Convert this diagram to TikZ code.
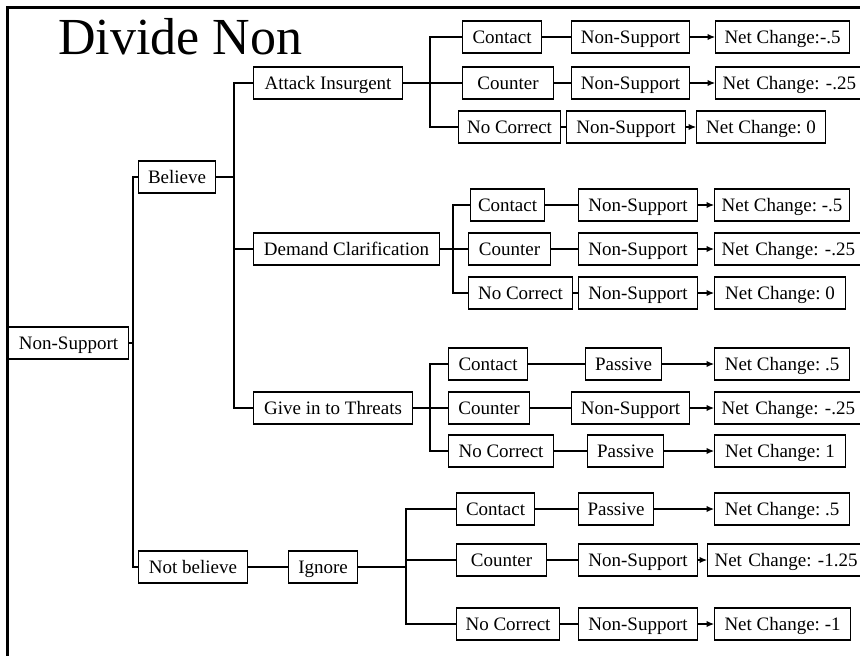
\documentclass[tikz,border=0pt]{standalone}
\usepackage{fontspec}
\setmainfont{Liberation Serif}
\usetikzlibrary{arrows.meta}
\frenchspacing
\tikzset{
  box/.style={draw, line width=1.1pt, anchor=west, minimum height=32pt,
    inner sep=0pt, text height=16.4pt, text depth=4pt,
    font=\fontsize{19}{21}\selectfont},
  link/.style={line width=1.1pt},
  tolink/.style={line width=1.1pt, -{Latex[length=7.5pt,width=6.5pt]}},
  frame/.style={line width=2.7pt},
}
\begin{document}
\begin{tikzpicture}[x=1pt, y=-1pt]
\useasboundingbox (0,0) rectangle (860,656);
\clip (0,0) rectangle (860,656);
\fill[white] (0,0) rectangle (860,656);

% page frame (top and left edges)
\draw[frame] (860,7.5) -- (7.5,7.5) -- (7.5,656);

% title
\node[anchor=base west, inner sep=0pt, font=\fontsize{52}{56}\selectfont] (title) at (58,54) {Divide Non};

% first levels
\node[box, minimum width=120pt] (root) at (8,343) {Non-Support};
\node[box, minimum width=77pt] (bel) at (138,177) {Believe};
\node[box, minimum width=109pt] (nbel) at (138,567) {Not believe};
\node[box, minimum width=149pt] (att) at (253,83) {Attack Insurgent};
\node[box, minimum width=186pt] (dem) at (253,249) {Demand Clarification};
\node[box, minimum width=159pt] (giv) at (253,408) {Give in to Threats};
\node[box, minimum width=69pt] (ign) at (288,567) {Ignore};

% junction points
\coordinate (jr) at (133,343);
\coordinate (jb) at (234,177);
\coordinate (ja) at (430,83);
\coordinate (jd) at (453,249);
\coordinate (jg) at (430,408);
\coordinate (ji) at (406,567);

% Attack Insurgent branch
\node[box, minimum width=79pt] (a1) at (462,37) {Contact};
\node[box, minimum width=118pt] (a1n) at (571,37) {Non-Support};
\node[box, minimum width=134pt] (a1r) at (715,37) {Net Change:-.5};
\node[box, minimum width=91pt] (a2) at (462,83) {Counter};
\node[box, minimum width=118pt] (a2n) at (571,83) {Non-Support};
\node[box, minimum width=160pt, text width=146pt, align=left, inner xsep=7pt] (a2r) at (715,83) {Net Change: -.25};
\node[box, minimum width=102pt] (a3) at (458,127) {No Correct};
\node[box, minimum width=119pt] (a3n) at (566,127) {Non-Support};
\node[box, minimum width=129pt] (a3r) at (696,127) {Net Change: 0};

% Demand Clarification branch
\node[box, minimum width=74pt] (d1) at (470,205) {Contact};
\node[box, minimum width=119pt] (d1n) at (578,205) {Non-Support};
\node[box, minimum width=135pt] (d1r) at (714,205) {Net Change: -.5};
\node[box, minimum width=82pt] (d2) at (468,249) {Counter};
\node[box, minimum width=119pt] (d2n) at (578,249) {Non-Support};
\node[box, minimum width=160pt, text width=146pt, align=left, inner xsep=7pt] (d2r) at (714,249) {Net Change: -.25};
\node[box, minimum width=104pt] (d3) at (468,293) {No Correct};
\node[box, minimum width=119pt] (d3n) at (578,293) {Non-Support};
\node[box, minimum width=131pt] (d3r) at (714,293) {Net Change: 0};

% Give in to Threats branch
\node[box, minimum width=79pt] (g1) at (448,364) {Contact};
\node[box, minimum width=76pt] (g1n) at (585,364) {Passive};
\node[box, minimum width=135pt] (g1r) at (714,364) {Net Change: .5};
\node[box, minimum width=81pt] (g2) at (448,408) {Counter};
\node[box, minimum width=118pt] (g2n) at (571,408) {Non-Support};
\node[box, minimum width=160pt, text width=146pt, align=left, inner xsep=7pt] (g2r) at (714,408) {Net Change: -.25};
\node[box, minimum width=105pt] (g3) at (448,451) {No Correct};
\node[box, minimum width=76pt] (g3n) at (587,451) {Passive};
\node[box, minimum width=131pt] (g3r) at (714,451) {Net Change: 1};

% Ignore branch
\node[box, minimum width=78pt] (i1) at (456,509) {Contact};
\node[box, minimum width=75pt] (i1n) at (578,509) {Passive};
\node[box, minimum width=135pt] (i1r) at (714,509) {Net Change: .5};
\node[box, minimum width=90pt] (i2) at (456,560) {Counter};
\node[box, minimum width=119pt] (i2n) at (578,560) {Non-Support};
\node[box, minimum width=170pt, text width=156pt, align=left, inner xsep=7pt] (i2r) at (707,560) {Net Change: -1.25};
\node[box, minimum width=103pt] (i3) at (456,624) {No Correct};
\node[box, minimum width=119pt] (i3n) at (578,624) {Non-Support};
\node[box, minimum width=136pt] (i3r) at (714,624) {Net Change: -1};

% tree connectors
\draw[link] (root.east) -- (jr);
\draw[link] (bel.west) -| (jr);
\draw[link] (nbel.west) -| (jr);
\draw[link] (bel.east) -- (jb);
\draw[link] (att.west) -| (jb);
\draw[link] (dem.west) -| (jb);
\draw[link] (giv.west) -| (jb);
\draw[link] (nbel.east) -- (ign.west);

\draw[link] (att.east) -- (ja);
\draw[link] (a1.west) -| (ja);
\draw[link] (a2.west) -| (ja);
\draw[link] (a3.west) -| (ja);
\draw[link] (dem.east) -- (jd);
\draw[link] (d1.west) -| (jd);
\draw[link] (d2.west) -| (jd);
\draw[link] (d3.west) -| (jd);
\draw[link] (giv.east) -- (jg);
\draw[link] (g1.west) -| (jg);
\draw[link] (g2.west) -| (jg);
\draw[link] (g3.west) -| (jg);
\draw[link] (ign.east) -- (ji);
\draw[link] (i1.west) -| (ji);
\draw[link] (i2.west) -| (ji);
\draw[link] (i3.west) -| (ji);

% row connectors
\foreach \r in {a1,a2,a3,d1,d2,d3,g1,g2,g3,i1,i2,i3}{
  \draw[link] (\r.east) -- (\r n.west);
  \draw[tolink] (\r n.east) -- (\r r.west);
}
\end{tikzpicture}
\end{document}
